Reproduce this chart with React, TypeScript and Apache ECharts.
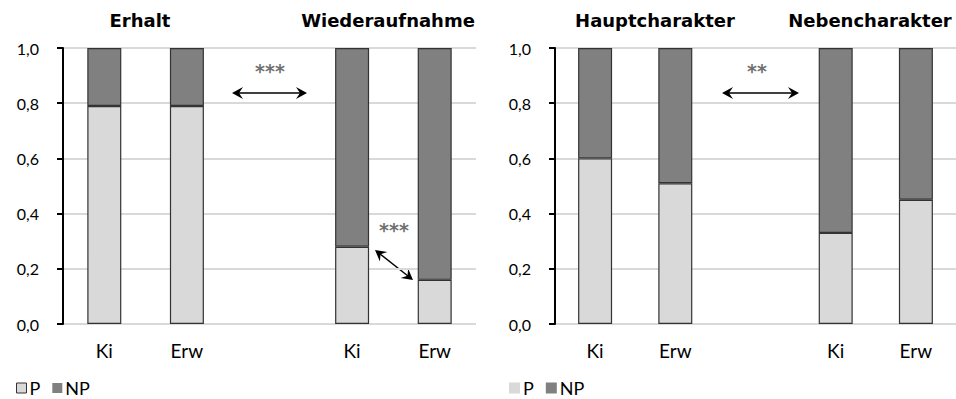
import React, { useEffect, useRef } from "react";
import * as echarts from "echarts";

// Category slots: an empty middle slot separates the two condition pairs
const categories = ["Ki", "Erw", "", "Ki", "Erw"];

// Erhalt (slots 0,1) and Wiederaufnahme (slots 3,4)
const leftP = [0.79, 0.79, null, 0.28, 0.16];
const leftNP = [0.21, 0.21, null, 0.72, 0.84];

// Hauptcharakter (slots 0,1) and Nebencharakter (slots 3,4)
const rightP = [0.6, 0.51, null, 0.33, 0.45];
const rightNP = [0.4, 0.49, null, 0.67, 0.55];

const yTicks = { min: 0, max: 1, interval: 0.2 };

const panelTitles = [
  { text: "Erhalt", x: 140 },
  { text: "Wiederaufnahme", x: 388 },
  { text: "Hauptcharakter", x: 655 },
  { text: "Nebencharakter", x: 870 },
];

const FONT = "Lato, 'Open Sans', sans-serif";
const TITLE_FONT = "'DejaVu Sans', sans-serif";
const COLOR_P = "#d9d9d9";
const COLOR_NP = "#808080";
const BORDER = "#333333";

function arrowHead(tx: number, ty: number, dx: number, dy: number) {
  const L = 11;
  const W = 6;
  const N = 7;
  const bx = tx - dx * L;
  const by = ty - dy * L;
  const px = -dy;
  const py = dx;
  return {
    type: "polygon",
    shape: {
      points: [
        [tx, ty],
        [bx + px * W, by + py * W],
        [tx - dx * N, ty - dy * N],
        [bx - px * W, by - py * W],
      ],
    },
    style: { fill: "#000" },
  };
}

function doubleArrow(x1: number, y1: number, x2: number, y2: number) {
  const len = Math.hypot(x2 - x1, y2 - y1);
  const dx = (x2 - x1) / len;
  const dy = (y2 - y1) / len;
  return {
    type: "group",
    children: [
      {
        type: "line",
        shape: { x1: x1 + dx * 6, y1: y1 + dy * 6, x2: x2 - dx * 6, y2: y2 - dy * 6 },
        style: { stroke: "#000", lineWidth: 1.5 },
      },
      arrowHead(x2, y2, dx, dy),
      arrowHead(x1, y1, -dx, -dy),
    ],
  };
}

function stars(text: string, x: number, y: number) {
  return {
    type: "text",
    x,
    y,
    style: {
      text,
      font: "bold 19px 'DejaVu Sans', sans-serif",
      fill: "#707070",
      textAlign: "center",
      textVerticalAlign: "middle",
    },
  };
}

function yAxis(gridIndex: number) {
  return {
    type: "value",
    gridIndex,
    ...yTicks,
    axisLine: { show: true, lineStyle: { color: "#000", width: 2 } },
    axisTick: { show: true, length: 6, inside: false, lineStyle: { color: "#000", width: 2 } },
    axisLabel: {
      margin: 24,
      fontFamily: FONT,
      fontSize: 16,
      color: "#000",
      formatter: (v: number) => v.toFixed(1).replace(".", ","),
    },
    splitLine: { show: true, lineStyle: { color: "#d9d9d9", width: 2 } },
  };
}

function xAxis(gridIndex: number) {
  return {
    type: "category",
    gridIndex,
    data: categories,
    boundaryGap: true,
    axisLine: { show: false },
    axisTick: { show: false },
    axisLabel: { margin: 17, fontFamily: FONT, fontSize: 19, color: "#000", interval: 0 },
  };
}

function barSeries(name: string, data: (number | null)[], idx: number, color: string) {
  return {
    type: "bar",
    name,
    data,
    xAxisIndex: idx,
    yAxisIndex: idx,
    stack: "s" + idx,
    barWidth: 34,
    itemStyle: { color, borderColor: BORDER, borderWidth: 1.2 },
  };
}

const legendText = { fontFamily: FONT, fontSize: 18, lineHeight: 16, color: "#000", padding: [0, 0, 0, -2] };

export default function App() {
  const ref = useRef<HTMLDivElement>(null);

  useEffect(() => {
    document.body.style.margin = "0";
    const chart = echarts.init(ref.current!, undefined, { renderer: "svg" });
    chart.setOption({
      animation: false,
      backgroundColor: "#fff",
      grid: [
        { left: 63, top: 48, width: 413, height: 276 },
        { left: 555, top: 48, width: 414, height: 276 },
      ],
      xAxis: [xAxis(0), xAxis(1)],
      yAxis: [yAxis(0), yAxis(1)],
      legend: [
        {
          left: 16,
          top: 375,
          padding: [4, 0, 4, 0],
          itemWidth: 10,
          itemHeight: 10,
          itemGap: 12,
          textStyle: legendText,
          data: [
            { name: "P", icon: "rect", itemStyle: { color: COLOR_P, borderColor: "#333", borderWidth: 1 } },
            { name: "NP", icon: "rect", itemStyle: { color: COLOR_NP, borderWidth: 0 } },
          ],
        },
        {
          left: 509,
          top: 375,
          padding: [4, 0, 4, 0],
          itemWidth: 11,
          itemHeight: 11,
          itemGap: 12,
          textStyle: legendText,
          data: [
            { name: "P", icon: "rect", itemStyle: { color: COLOR_P, borderWidth: 0 } },
            { name: "NP", icon: "rect", itemStyle: { color: COLOR_NP, borderWidth: 0 } },
          ],
        },
      ],
      series: [
        barSeries("P", leftP, 0, COLOR_P),
        barSeries("NP", leftNP, 0, COLOR_NP),
        barSeries("P", rightP, 1, COLOR_P),
        barSeries("NP", rightNP, 1, COLOR_NP),
      ],
      graphic: [
        ...panelTitles.map((t) => ({
          type: "text",
          x: t.x,
          y: 20,
          style: {
            text: t.text,
            font: `bold 18px ${TITLE_FONT}`,
            fill: "#000",
            textAlign: "center",
            textVerticalAlign: "middle",
          },
        })),
        stars("***", 270, 71),
        doubleArrow(232, 93, 307, 93),
        stars("**", 757, 71),
        doubleArrow(722, 93, 799, 93),
        stars("***", 394, 230),
        doubleArrow(375, 250, 413, 280),
      ],
    });
    return () => chart.dispose();
  }, []);

  return <div ref={ref} style={{ width: 956, height: 399 }} />;
}
